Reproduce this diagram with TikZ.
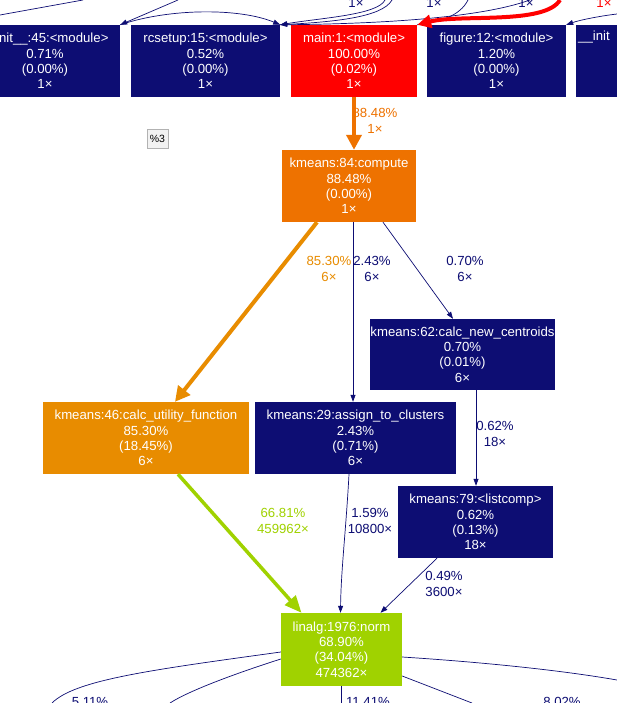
\documentclass[tikz,border=0pt]{standalone}
\usepackage{fontspec}
\setmainfont{Liberation Sans}
\usetikzlibrary{arrows.meta,calc}
\definecolor{cold}{HTML}{0D0D73}
\definecolor{hotred}{HTML}{FF0000}
\definecolor{warm}{HTML}{EE7200}
\definecolor{amber}{HTML}{E88C00}
\definecolor{lime}{HTML}{A0D200}
\definecolor{tipgray}{HTML}{F2F2F2}
\newcommand\fnfont{\fontsize{13.2}{15.3}\selectfont}

\begin{document}
\begin{tikzpicture}[
    x=1pt, y=-1pt,
    fn/.style={rectangle, minimum height=72, inner sep=0, align=center, text=white, font=\fnfont},
    cold fn/.style={fn, fill=cold},
    call/.style={cold, line width=0.7, -{Triangle[length=7, width=5]}},
    wire/.style={cold, line width=0.7},
    hot/.style={line width=4, -{Triangle[length=15, width=15]}},
    lbl/.style={align=center, font=\fnfont, inner sep=0, text=cold}
]
\useasboundingbox (0,0) rectangle (617,703);
\clip (0,0) rectangle (617,703);
\fill[white] (0,0) rectangle (617,703);

% Top row (cut by the frame)
\node[cold fn, minimum width=150] (init45) at (45,61) {\_\_init\_\_:45:<module>\\0.71\%\\(0.00\%)\\1×};
\node[cold fn, minimum width=149] (rcsetup) at (205.5,61) {rcsetup:15:<module>\\0.52\%\\(0.00\%)\\1×};
\node[fn, fill=hotred, minimum width=126] (main) at (354,61) {main:1:<module>\\100.00\%\\(0.02\%)\\1×};
\node[cold fn, minimum width=139] (figure) at (496.5,61) {figure:12:<module>\\1.20\%\\(0.00\%)\\1×};
\node[cold fn, anchor=west, align=left, text width=136, inner xsep=2] (init1) at (576,61) {\_\_init\\\strut\\\strut\\\strut};

\node[draw=gray!60, fill=tipgray, font=\fontsize{10.5}{12}\selectfont, minimum width=21, minimum height=19, inner sep=0] (title) at (157.5,138.5) {\%3};

% Call tree
\node[fn, fill=warm, minimum width=134] (compute) at (349,186) {kmeans:84:compute\\88.48\%\\(0.00\%)\\1×};
\node[cold fn, minimum width=181, minimum height=71] (centroids) at (462.5,354.5) {kmeans:62:calc\_new\_centroids\\0.70\%\\(0.01\%)\\6×};
\node[fn, fill=amber, minimum width=206] (utility) at (146,438) {kmeans:46:calc\_utility\_function\\85.30\%\\(18.45\%)\\6×};
\node[cold fn, minimum width=201] (assign) at (355.5,438) {kmeans:29:assign\_to\_clusters\\2.43\%\\(0.71\%)\\6×};
\node[cold fn, minimum width=155] (listcomp) at (475.5,522) {kmeans:79:<listcomp>\\0.62\%\\(0.13\%)\\18×};
\node[fn, fill=lime, minimum width=121, minimum height=73] (norm) at (341.5,649.5) {linalg:1976:norm\\68.90\%\\(34.04\%)\\474362×};

% Edge labels
\node[lbl, text=warm] (l-compute) at (375,121) {88.48\%\\1×};
\node[lbl, text=amber] (l-utility) at (329,269) {85.30\%\\6×};
\node[lbl] (l-assign) at (372,269) {2.43\%\\6×};
\node[lbl] (l-centroids) at (465,269) {0.70\%\\6×};
\node[lbl] (l-listcomp) at (495,434) {0.62\%\\18×};
\node[lbl, text=lime] (l-norm1) at (283,521) {66.81\%\\459962×};
\node[lbl] (l-norm2) at (370,521) {1.59\%\\10800×};
\node[lbl] (l-norm3) at (444,584) {0.49\%\\3600×};
\node[lbl] (l-top1) at (356,3) {1×};
\node[lbl] (l-top2) at (434,3) {1×};
\node[lbl] (l-top3) at (526,3) {1×};
\node[lbl, text=hotred] (l-top4) at (604,3) {1×};
\node[lbl] (l-out1) at (90,702) {5.11\%};
\node[lbl] (l-out3) at (368,702) {11.41\%};
\node[lbl] (l-out5) at (562,702) {8.02\%};

% Edges
\draw[hot, warm] (main.south) -- (main.south |- compute.north);
\draw[hot, amber] ($(compute.south)+(-32,0)$) -- ($(utility.north)+(29,0)$);
\coordinate (c-assign) at ($(compute.south)+(4,0)$);
\draw[call] (c-assign) -- (c-assign |- assign.north);
\draw[call] ($(compute.south)+(34,0)$) -- ($(centroids.north)+(-9.5,0)$);
\draw[call] ($(centroids.south)+(13.5,0)$) -- ($(listcomp.north)+(0.5,0)$);
\draw[line width=3.5, lime, -{Triangle[length=17, width=14]}] ($(utility.south)+(32,0)$) -- ($(norm.north)+(-40,0)$);
\draw[call] ($(assign.south)+(-6.5,0)$) .. controls (346,530) and (341,570) .. ($(norm.north)+(-1,0)$);
\draw[call] ($(listcomp.south)+(-38.5,0)$) -- ($(norm.north)+(39,0)$);

% Edges coming in from above
\coordinate (in-a) at (178,0);
\coordinate (in-b) at (83,0);
\coordinate (out-b) at (0,15);
\coordinate (in-c) at (385,0);
\coordinate (in-d) at (392,0);
\coordinate (in-e) at (530,0);
\coordinate (in-f) at (468,0);
\coordinate (in-red) at (560,0);
\coordinate (in-g) at (617,14);
\draw[wire] (in-b) -- (out-b);
\draw[call] (in-a) -- (init45.north east);
\draw[call] (init45.north east) .. controls (170,8) and (240,8) .. (rcsetup.north east);
\draw[call] (in-c) .. controls (378,15) and (320,18) .. (rcsetup.north east);
\draw[call] (in-d) .. controls (382,18) and (330,22) .. (rcsetup.north east);
\draw[wire] (rcsetup.north east) .. controls (380,24) and (480,18) .. (in-e);
\draw[wire] (in-f) .. controls (460,16) and (440,22) .. (main.north east);
\draw[hotred, line width=4, -{Triangle[length=14, width=13]}] (in-red) .. controls (545,25) and (460,14) .. (main.north east);
\draw[call] (in-g) .. controls (600,16) and (580,20) .. (figure.north east);

% Edges going out below
\coordinate (out-1) at (52,703);
\coordinate (out-2) at (170,703);
\coordinate (out-3) at (341.5,703);
\coordinate (out-4) at (472,703);
\coordinate (out-5) at (617,680);
\draw[wire] ($(norm.west)+(0,2.5)$) .. controls (150,670) and (75,680) .. (out-1);
\draw[wire] ($(norm.west)+(0,9.5)$) .. controls (240,672) and (190,690) .. (out-2);
\draw[wire] (norm.south) -- (out-3);
\draw[wire] ($(norm.east)+(0,26.5)$) -- (out-4);
\draw[wire] ($(norm.east)+(0,7.5)$) .. controls (480,662) and (560,670) .. (out-5);

\end{tikzpicture}
\end{document}
